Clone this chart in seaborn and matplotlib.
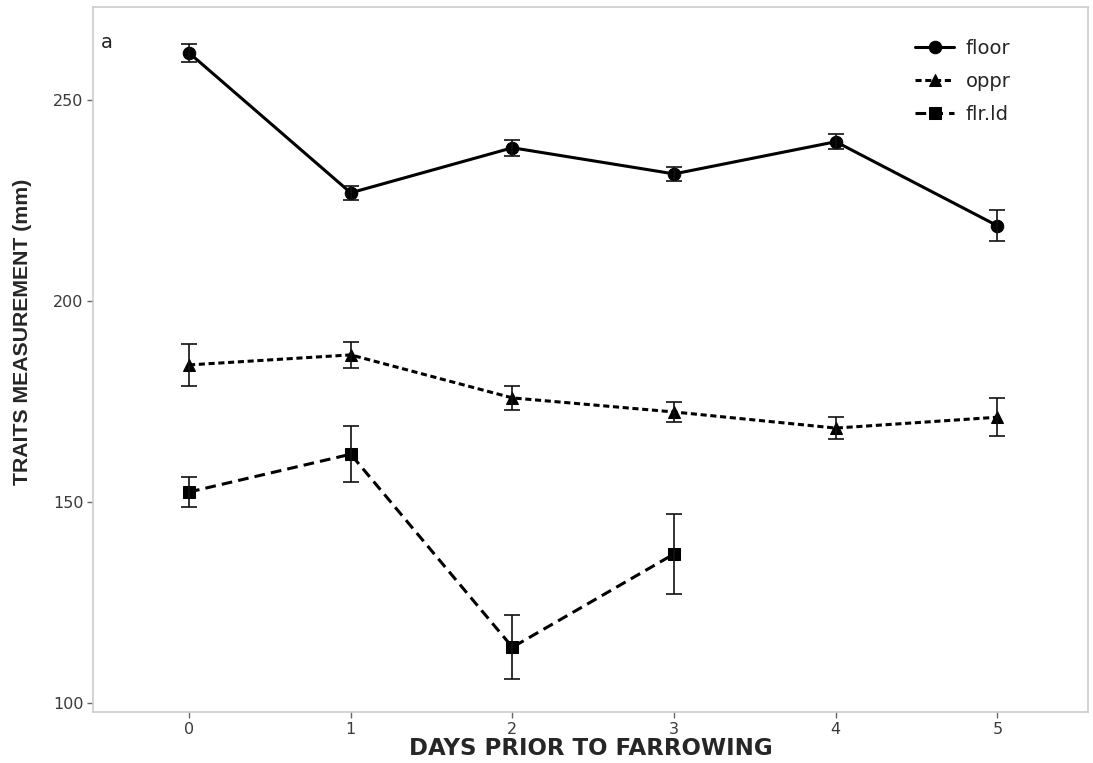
import matplotlib
matplotlib.use("Agg")
import matplotlib.pyplot as plt
import seaborn as sns
import pandas as pd
import numpy as np

days = [0, 1, 2, 3, 4, 5]
floor_mean = [261.7, 226.9, 238.1, 231.6, 239.6, 218.7]
floor_se = [2.2, 1.8, 2.0, 1.8, 1.8, 3.9]
oppr_mean = [184.1, 186.6, 175.9, 172.4, 168.4, 171.1]
oppr_se = [5.2, 3.2, 3.0, 2.6, 2.8, 4.7]
flrld_days = [0, 1, 2, 3]
flrld_mean = [152.5, 161.9, 113.9, 137.1]
flrld_se = [3.7, 7.0, 8.0, 9.9]
y_ticks = [100, 150, 200, 250]

sns.set_theme(style="white")
plt.rcParams['font.family'] = ['DejaVu Sans']

df = pd.concat([
    pd.DataFrame({"day": days, "value": floor_mean, "trait": "floor"}),
    pd.DataFrame({"day": days, "value": oppr_mean, "trait": "oppr"}),
    pd.DataFrame({"day": flrld_days, "value": flrld_mean, "trait": "flr.ld"}),
])

fig = plt.figure(figsize=(10.93, 7.63), dpi=100)
ax = fig.add_axes([93/1093, 1 - 712/763, (1088-93)/1093, (712-7)/763])

styles = {"floor": "", "oppr": (2.0, 1.2), "flr.ld": (3.5, 2.0)}
markers = {"floor": "o", "oppr": "^", "flr.ld": "s"}
sns.lineplot(data=df, x="day", y="value", hue="trait", style="trait",
             palette=["black"] * 3, dashes=styles, markers=markers,
             markersize=9, markeredgecolor="black", linewidth=2.2, ax=ax,
             legend=True)

for x, m, e in [(days, floor_mean, floor_se), (days, oppr_mean, oppr_se),
                (flrld_days, flrld_mean, flrld_se)]:
    ax.errorbar(x, m, yerr=e, fmt="none", ecolor="#111111", elinewidth=1.2,
                capsize=6, capthick=1.2)

ax.set_xlim(-0.594, 5.56)
ax.set_ylim(97.8, 273.1)
ax.set_xticks(days)
ax.set_yticks(y_ticks)
ax.tick_params(axis="both", which="both", length=4, width=1, color="#666666",
               labelsize=11.5, labelcolor="#3a3a3a", bottom=True, left=True, pad=3)
for s in ax.spines.values():
    s.set_color("#cccccc")
    s.set_linewidth(1.2)

ax.set_xlabel("DAYS PRIOR TO FARROWING", fontsize=16.5, fontweight="bold", labelpad=0)
ax.set_ylabel("TRAITS MEASUREMENT (mm)", fontsize=15.3, fontweight="bold",
              family="Liberation Sans")
ax.yaxis.set_label_coords(-0.0613, 0.539)
ax.text(0.008, 0.963, "a", transform=ax.transAxes, fontsize=14, va="top", ha="left", color="#222222")

leg = ax.legend(frameon=False, loc="upper right", bbox_to_anchor=(0.93, 0.966),
                borderaxespad=0, fontsize=14, handlelength=2.0, handletextpad=0.6,
                labelspacing=0.72, title=None)

fig.savefig("out.png", dpi=100)
